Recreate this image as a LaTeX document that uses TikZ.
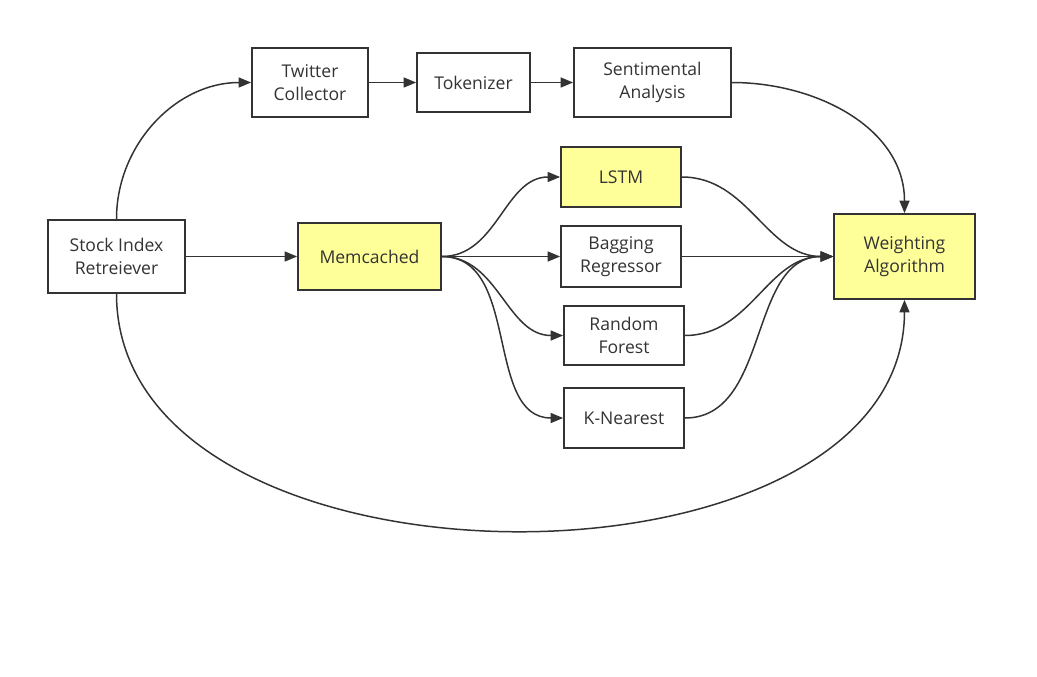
\documentclass[tikz,border=0pt]{standalone}
\usepackage{fontspec}
\setmainfont{Open Sans}
\usepackage{tikz}
\usetikzlibrary{arrows.meta,positioning}
\definecolor{lineC}{HTML}{333333}
\definecolor{hiC}{HTML}{FFFF99}

\begin{document}
\begin{tikzpicture}[x=0.02cm,y=-0.02cm,
  box/.style={draw=lineC,line width=1pt,fill=white,text=lineC,align=center,
    inner sep=0pt,font=\fontsize{10}{13.2}\selectfont},
  hibox/.style={box,fill=hiC},
  >={Triangle[length=0.25cm,width=0.2cm]},
  every path/.style={draw=lineC,line width=0.85pt}]
\useasboundingbox[draw=none] (0,0) rectangle (1037,676);

\node[box,minimum width=2.74cm,minimum height=1.46cm] (stock) at (116.5,256.5) {Stock Index\\Retreiever};
\node[box,minimum width=2.32cm,minimum height=1.38cm] (twitter) at (310,82.5) {Twitter\\Collector};
\node[box,minimum width=2.26cm,minimum height=1.18cm] (token) at (473.5,82.5) {Tokenizer};
\node[box,minimum width=3.14cm,minimum height=1.38cm] (senti) at (652.5,82.5) {Sentimental\\Analysis};
\node[hibox,minimum width=2.86cm,minimum height=1.34cm] (memc) at (369.5,256.5) {Memcached};
\node[hibox,minimum width=2.4cm,minimum height=1.2cm] (lstm) at (621,177) {LSTM};
\node[box,minimum width=2.4cm,minimum height=1.22cm] (bagging) at (621,256.5) {Bagging\\Regressor};
\node[box,minimum width=2.4cm,minimum height=1.18cm] (forest) at (624,335.5) {Random\\Forest};
\node[box,minimum width=2.4cm,minimum height=1.2cm] (knn) at (624,418) {K-Nearest};
\node[hibox,minimum width=2.82cm,minimum height=1.7cm] (weight) at (904.5,256.5) {Weighting\\Algorithm};

\draw[->] (stock.north) to[out=90,in=180] (twitter.west);
\draw[->] (twitter) -- (token);
\draw[->] (token) -- (senti);
\draw[->] (senti.east) to[out=0,in=90] (weight.north);

\draw[->] (stock) -- (memc);
\draw[->] (memc.east) to[out=0,in=180] (lstm.west);
\draw[->] (memc.east) -- (bagging.west);
\draw[->] (memc.east) to[out=0,in=180] (forest.west);
\draw[->] (memc.east) to[out=0,in=180] (knn.west);

\draw[->] (lstm.east) to[out=0,in=180] (weight.west);
\draw[->] (bagging.east) -- (weight.west);
\draw[->] (forest.east) to[out=0,in=180] (weight.west);
\draw[->] (knn.east) to[out=0,in=180] (weight.west);

\draw[->] (stock.south) .. controls (117,608) and (904,608) .. (weight.south);
\end{tikzpicture}
\end{document}
